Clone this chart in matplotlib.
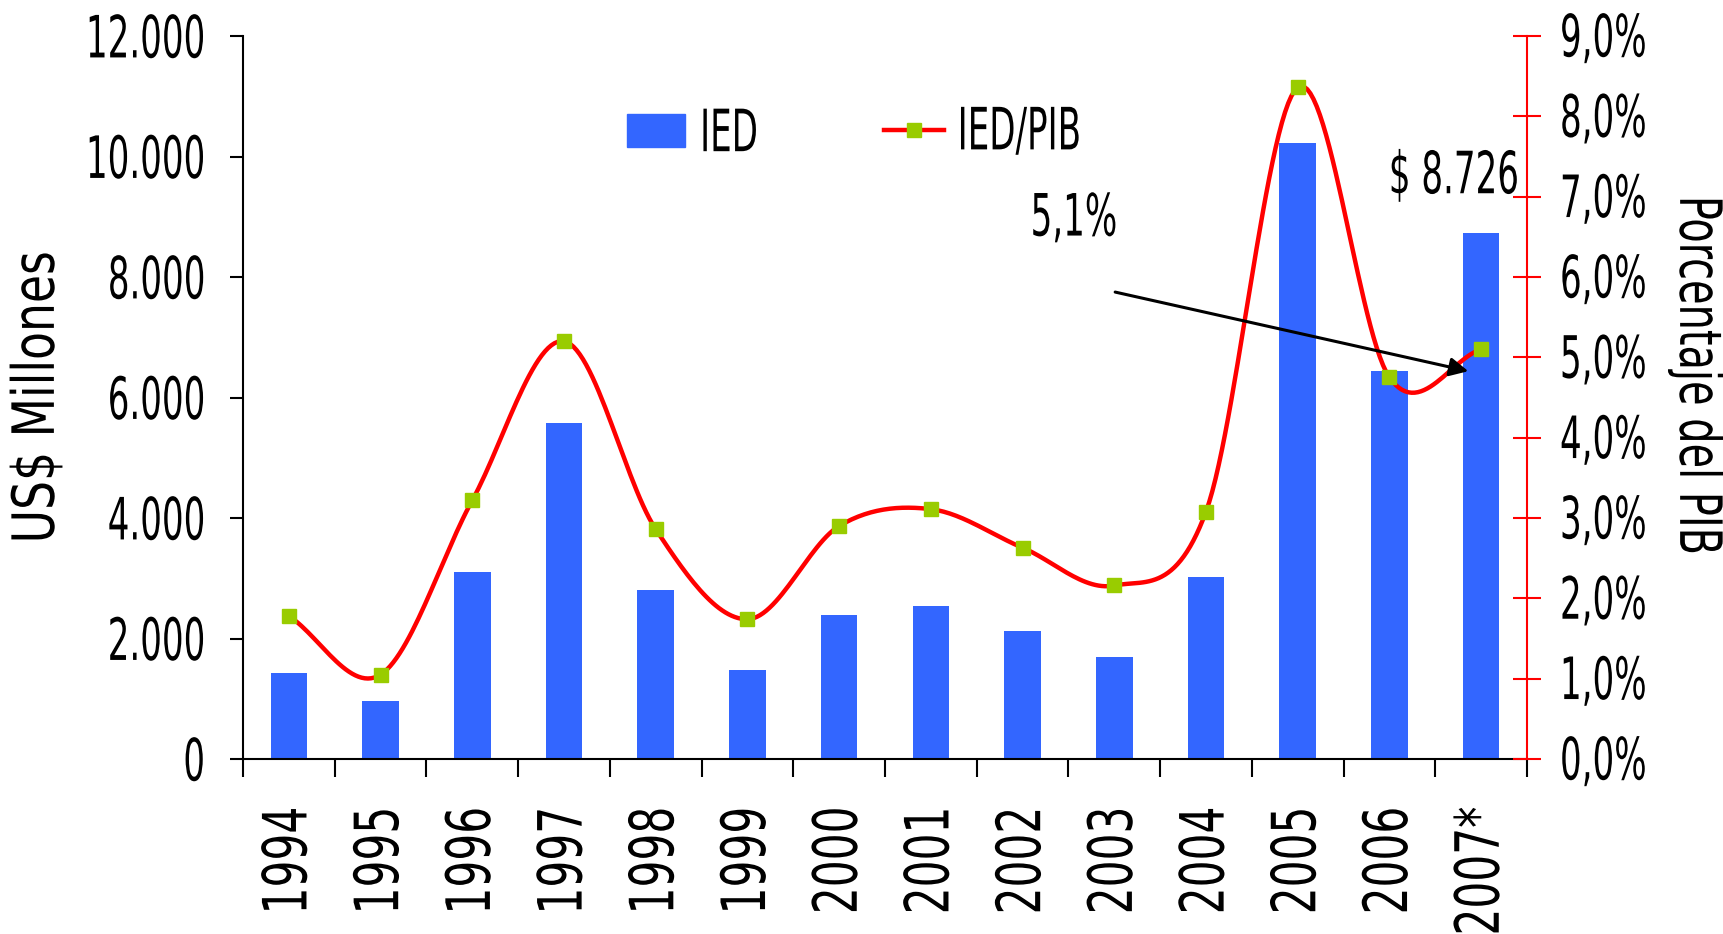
import numpy as np
import matplotlib.pyplot as plt
import matplotlib.patheffects as pe
from matplotlib.transforms import Affine2D
from matplotlib.ticker import FuncFormatter
from matplotlib.lines import Line2D
from matplotlib.patches import Patch

plt.rcParams['font.family'] = ['DejaVu Sans']
plt.rcParams['font.stretch'] = 'condensed'

years = ['1994', '1995', '1996', '1997', '1998', '1999', '2000',
         '2001', '2002', '2003', '2004', '2005', '2006', '2007*']
ied = [1425, 968, 3105, 5571, 2813, 1479, 2393, 2539, 2119, 1699, 3014,
       10228, 6447, 8726]
ied_pib = [1.78, 1.05, 3.22, 5.20, 2.86, 1.74, 2.90, 3.11, 2.63, 2.16, 3.08,
           8.36, 4.75, 5.10]


# smoothed line like Excel (Catmull-Rom through the points)
def smooth(xs, ys, n=30):
    xs = np.asarray(xs, float)
    ys = np.asarray(ys, float)
    px = np.concatenate([[2 * xs[0] - xs[1]], xs, [2 * xs[-1] - xs[-2]]])
    py = np.concatenate([[2 * ys[0] - ys[1]], ys, [2 * ys[-1] - ys[-2]]])
    ox, oy = [], []
    t = np.linspace(0, 1, n)
    for i in range(1, len(px) - 2):
        for p, out in ((px, ox), (py, oy)):
            p0, p1, p2, p3 = p[i - 1], p[i], p[i + 1], p[i + 2]
            out.extend(0.5 * ((2 * p1) + (-p0 + p2) * t
                              + (2 * p0 - 5 * p1 + 4 * p2 - p3) * t ** 2
                              + (-p0 + 3 * p1 - 3 * p2 + p3) * t ** 3))
    return np.array(ox), np.array(oy)


# narrow font look: small font, glyphs stretched across the text direction
class Stretch(pe.AbstractPathEffect):
    def __init__(self, k, axis='y'):
        super().__init__()
        self.k, self.axis = k, axis

    def draw_path(self, renderer, gc, tpath, affine, rgbFace=None):
        bb = tpath.get_extents(affine)
        if self.axis == 'x':
            c = (bb.x0 + bb.x1) / 2
            t = Affine2D().translate(-c, 0).scale(self.k, 1).translate(c, 0)
        else:
            c = (bb.y0 + bb.y1) / 2
            t = Affine2D().translate(0, -c).scale(1, self.k).translate(0, c)
        renderer.draw_path(gc, tpath, affine + t, rgbFace)


def stretch(texts, k, axis='y'):
    for t in texts:
        t.set_path_effects([Stretch(k, axis)])


x = np.arange(len(years))
sq = 0.65
fs = 42 * sq          # 27.3 pt, drawn 42 pt tall
fsx = 44 * 0.77       # x tick labels

fig = plt.figure(figsize=(17.24, 9.34), dpi=100)
ax = fig.add_axes([243 / 1724, 1 - 759 / 934, 1284 / 1724, 723 / 934])
ax2 = ax.twinx()

ax.bar(x, ied, width=0.4, color='#3366FF', zorder=2)
ax.set_xlim(-0.5, len(years) - 0.5)
ax.set_ylim(0, 12000)
ax.set_yticks(np.arange(0, 12001, 2000))
ax.yaxis.set_major_formatter(FuncFormatter(lambda v, p: f'{int(v):,}'.replace(',', '.')))
ylab = ax.set_ylabel('US$ Millones', fontsize=42 * 0.87, ha='center', va='center')
ax.yaxis.set_label_coords(-0.160, 0.5)
ax.tick_params(axis='y', labelsize=fs, length=9.4, width=1.5, direction='out', pad=18)
ax.set_xticks(x)
ax.set_xticklabels(years, rotation=90, fontsize=fsx)
ax.tick_params(axis='x', length=0, pad=34.5)
ax.set_xticks(np.arange(-0.5, len(years)), minor=True)
ax.tick_params(axis='x', which='minor', length=13, width=1.5)
for s in ['top', 'right']:
    ax.spines[s].set_visible(False)
ax.spines['left'].set_linewidth(1.5)
ax.spines['bottom'].set_linewidth(1.5)

sx, sy = smooth(x, ied_pib)
ax2.plot(sx, sy, color='red', lw=3.2, zorder=3)
ax2.plot(x, ied_pib, ls='none', marker='s', ms=10, color='#99CC00', zorder=4)
ax2.set_ylim(0, 9)
ax2.set_yticks(np.arange(0, 9.01, 1))
ax2.yaxis.set_major_formatter(FuncFormatter(lambda v, p: f'{v:.1f}%'.replace('.', ',')))
ax2.tick_params(axis='y', labelsize=fs, length=19.5, width=1.5, direction='inout',
                color='red', pad=14)
ylab2 = ax2.set_ylabel('Porcentaje del PIB', fontsize=42 * 0.76, rotation=-90,
                       ha='center', va='center')
ax2.yaxis.set_label_coords(1.132, 0.53)
for s in ['top', 'left', 'bottom']:
    ax2.spines[s].set_visible(False)
ax2.spines['right'].set_color('red')
ax2.spines['right'].set_linewidth(1.5)

ax2.annotate('', xy=(12.89, 4.82), xytext=(8.98, 5.82),
             arrowprops=dict(arrowstyle='-|>', color='black', lw=2.2,
                             mutation_scale=28))
t1 = ax2.text(8.56, 6.72, '5,1%', fontsize=fs, ha='center', va='center')
t2 = ax2.text(12.70, 7.245, '$ 8.726', fontsize=fs, ha='center', va='center')

leg1 = ax2.legend([Patch(color='#3366FF')], ['IED'], loc='center left',
                  bbox_to_anchor=(0.299, 0.866), frameon=False, fontsize=fs,
                  handlelength=1.53, handleheight=0.98, handletextpad=0.4,
                  borderpad=0, borderaxespad=0)
ax2.add_artist(leg1)
leg2 = ax2.legend([Line2D([], [], color='red', lw=3.2, marker='s', ms=10,
                          markerfacecolor='#99CC00', markeredgecolor='#99CC00')],
                  ['IED/PIB'], loc='center left', bbox_to_anchor=(0.499, 0.866),
                  frameon=False, fontsize=fs, handlelength=1.58,
                  handletextpad=0.37, borderpad=0, borderaxespad=0)

stretch(ax.get_yticklabels() + ax2.get_yticklabels(), 1 / sq, 'y')
stretch(ax.get_xticklabels(), 1 / 0.77, 'x')
stretch([ylab], 1 / 0.87, 'x')
stretch([ylab2], 1 / 0.76, 'x')
stretch([t1, t2] + leg1.get_texts() + leg2.get_texts(), 1 / sq, 'y')

fig.savefig('out.png', dpi=100)
